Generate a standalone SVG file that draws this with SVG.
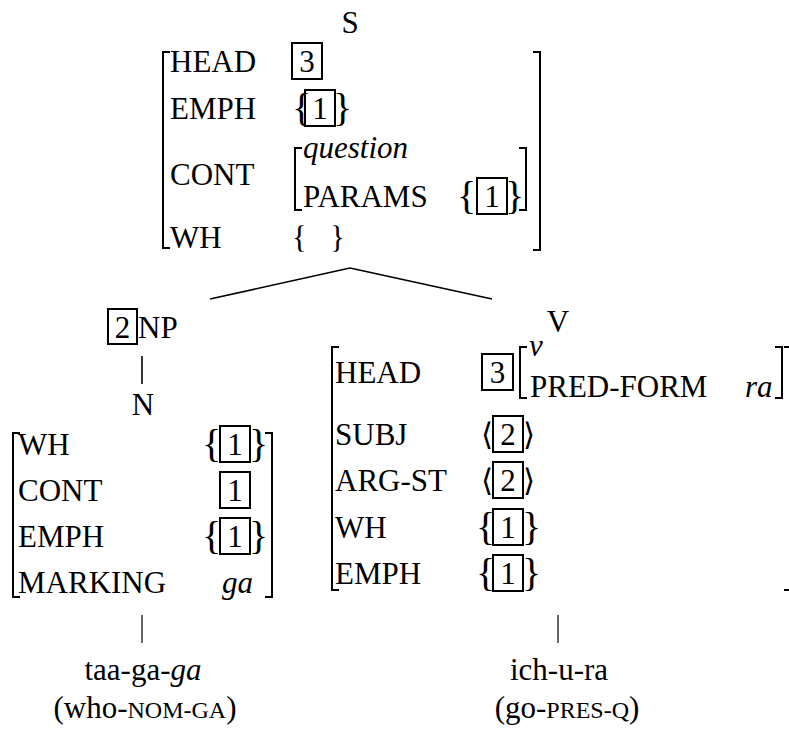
<svg xmlns="http://www.w3.org/2000/svg" width="789" height="731" viewBox="0 0 789 731">
<style>
text{font-family:"Liberation Serif","Times New Roman","DejaVu Serif",serif;font-size:31px;fill:#000}
.it{font-style:italic}
.mid{text-anchor:middle}
.br{font-size:40px}
.sc{font-size:24px}
.brk{fill:none;stroke:#000;stroke-width:2}
.box{fill:none;stroke:#000;stroke-width:2}
.edge{fill:none;stroke:#000;stroke-width:1.6}
.thin{fill:none;stroke:#000;stroke-width:1.2}
</style>
<rect width="789" height="731" fill="#fff"/>
<g id="connectors">
<path class="edge" d="M350,268 L210,299"/>
<path class="edge" d="M350,268 L492,299"/>
<path class="edge" d="M142,356 V384"/>
<path class="thin" d="M142,615 V643"/>
<path class="thin" d="M558,615 V643"/>
</g>
<g id="S">
<text class="mid" x="350" y="33">S</text>
<path class="brk" d="M170,52 H163 V248 H170"/>
<path class="brk" d="M533,52 H540 V250 H533"/>
<text x="170" y="72">HEAD</text>
<rect class="box" x="292" y="43" width="30" height="36"/>
<text class="mid" x="307" y="72">3</text>
<text x="170" y="119">EMPH</text>
<text class="br" x="292" y="121">{</text>
<rect class="box" x="305" y="90" width="30" height="36"/>
<text class="mid" x="320" y="119">1</text>
<text class="br" x="333" y="121">}</text>
<text x="170" y="185">CONT</text>
<path class="brk" d="M302,148 H295 V210 H302"/>
<text class="it" x="303" y="158">question</text>
<text x="303" y="207">PARAMS</text>
<text class="br" x="457" y="209">{</text>
<rect class="box" x="477" y="178" width="30" height="36"/>
<text class="mid" x="492" y="207">1</text>
<text class="br" x="505" y="209">}</text>
<path class="brk" d="M519,148 H526 V210 H519"/>
<text x="170" y="248">WH</text>
<text x="292" y="248">{</text>
<text x="330" y="248">}</text>
</g>
<g id="NP">
<rect class="box" x="108" y="309" width="29" height="35"/>
<text class="mid" x="122.5" y="338">2</text>
<text x="138" y="338">NP</text>
</g>
<g id="N">
<text class="mid" x="143" y="415">N</text>
<path class="brk" d="M20,433 H13 V597 H20"/>
<path class="brk" d="M265,433 H272 V597 H265"/>
<text x="18" y="455">WH</text>
<text class="br" x="202" y="457">{</text>
<rect class="box" x="220" y="426" width="30" height="36"/>
<text class="mid" x="235" y="455">1</text>
<text class="br" x="249" y="457">}</text>
<text x="18" y="501">CONT</text>
<rect class="box" x="220" y="472" width="30" height="36"/>
<text class="mid" x="235" y="501">1</text>
<text x="18" y="547">EMPH</text>
<text class="br" x="202" y="549">{</text>
<rect class="box" x="220" y="518" width="30" height="36"/>
<text class="mid" x="235" y="547">1</text>
<text class="br" x="249" y="549">}</text>
<text x="18" y="593">MARKING</text>
<text class="it" x="222" y="593">ga</text>
</g>
<g id="V">
<text class="mid" x="558" y="332">V</text>
<path class="brk" d="M339,347 H332 V590 H339"/>
<path class="brk" d="M784,347 H791 V590 H784"/>
<text x="335" y="383">HEAD</text>
<rect class="box" x="482" y="354" width="31" height="36"/>
<text class="mid" x="497.5" y="383">3</text>
<path class="brk" d="M527,347 H520 V398 H527"/>
<text class="it" x="529" y="356">v</text>
<text x="530" y="397">PRED-FORM</text>
<text class="it" x="745" y="397">ra</text>
<path class="brk" d="M775,347 H782 V398 H775"/>
<text x="335" y="445">SUBJ</text>
<text x="481" y="445">⟨</text>
<rect class="box" x="493" y="416" width="30" height="36"/>
<text class="mid" x="508" y="445">2</text>
<text x="523" y="445">⟩</text>
<text x="335" y="491">ARG-ST</text>
<text x="481" y="491">⟨</text>
<rect class="box" x="493" y="462" width="30" height="36"/>
<text class="mid" x="508" y="491">2</text>
<text x="523" y="491">⟩</text>
<text x="335" y="538">WH</text>
<text class="br" x="476" y="540">{</text>
<rect class="box" x="493" y="509" width="30" height="36"/>
<text class="mid" x="508" y="538">1</text>
<text class="br" x="522" y="540">}</text>
<text x="335" y="584">EMPH</text>
<text class="br" x="476" y="586">{</text>
<rect class="box" x="493" y="555" width="30" height="36"/>
<text class="mid" x="508" y="584">1</text>
<text class="br" x="522" y="586">}</text>
</g>
<g id="word1">
<text class="mid" x="143" y="680">taa-ga-<tspan class="it">ga</tspan></text>
<text class="mid" x="145" y="718">(who-<tspan class="sc">NOM-GA</tspan>)</text>
</g>
<g id="word2">
<text class="mid" x="559" y="680">ich-u-ra</text>
<text class="mid" x="567" y="718">(go-<tspan class="sc">PRES-Q</tspan>)</text>
</g>
</svg>
